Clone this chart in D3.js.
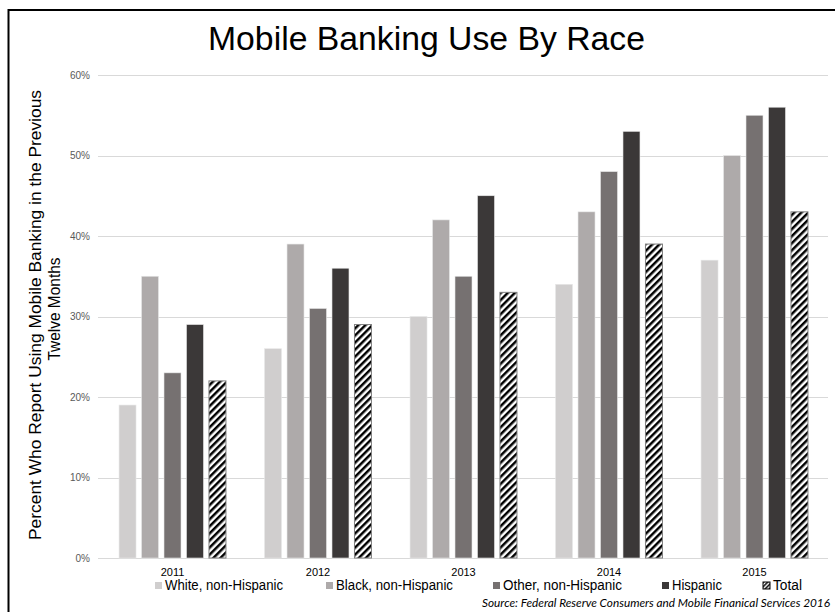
<!DOCTYPE html>
<html><head><meta charset="utf-8">
<script src="https://cdn.jsdelivr.net/npm/d3@7"></script>
<style>body{margin:0;background:#fff;} svg{display:block;}</style>
</head><body>
<script>
const years = ["2011","2012","2013","2014","2015"];
const seriesNames = ["White, non-Hispanic","Black, non-Hispanic","Other, non-Hispanic","Hispanic","Total"];
const white = [19,26,30,34,37];
const black = [35,39,42,43,50];
const other = [23,31,35,48,55];
const hispanic = [29,36,45,53,56];
const total = [22,29,33,39,43];
const yTicks = [0,10,20,30,40,50,60];
const colors = ["#d0cece","#aeaaaa","#767171","#3b3838","url(#hatch)"];
const legendColors = ["#d0cece","#aeaaaa","#767171","#3b3838","url(#hatchLeg)"];
const seriesValues = [white, black, other, hispanic, total];

const W = 835, H = 612;
const font = "Arial, 'Liberation Sans', sans-serif";
const svg = d3.select("body").append("svg").attr("width", W).attr("height", H);
const defs = svg.append("defs");
function hatch(id, size){
  const p = defs.append("pattern").attr("id",id).attr("patternUnits","userSpaceOnUse")
    .attr("width",size).attr("height",size).attr("patternTransform","rotate(45)");
  p.append("rect").attr("width",size).attr("height",size).attr("fill","#fff");
  p.append("rect").attr("width",size/2).attr("height",size).attr("fill","#000");
}
hatch("hatch", 5);
hatch("hatchLeg", 3);

// frame
svg.append("rect").attr("x",8.5).attr("y",10).attr("width",W).attr("height",H)
  .attr("fill","none").attr("stroke","#000").attr("stroke-width",2);

const m = {left:98, right:828, top:75, bottom:558};
const x0 = d3.scaleBand().domain(years).range([99.75, 827.25]).paddingInner(0.265).paddingOuter(0.1325);
const x1 = d3.scaleBand().domain(seriesNames).range([0, x0.bandwidth()]).paddingInner(0.244).paddingOuter(0);
const y = d3.scaleLinear().domain([0,60]).range([m.bottom, m.top]);

// gridlines
svg.append("g").selectAll("line").data(yTicks).join("line")
  .attr("x1", m.left).attr("x2", m.right)
  .attr("y1", d=>Math.round(y(d))+0.5).attr("y2", d=>Math.round(y(d))+0.5)
  .attr("stroke","#d9d9d9").attr("stroke-width",1);

// y axis
const yAxis = d3.axisLeft(y).tickValues(yTicks).tickFormat(d=>d+"%").tickSize(0).tickPadding(8);
const gy = svg.append("g").attr("transform",`translate(${m.left},0)`).call(yAxis);
gy.select(".domain").remove();
gy.selectAll("text").attr("font-family",font).attr("font-size",10).attr("fill","#595959");

// bars
const groups = svg.append("g").selectAll("g").data(years).join("g")
  .attr("transform", d=>`translate(${x0(d)},0)`);
groups.selectAll("rect").data((yr,i)=>seriesNames.map((s,j)=>({s, j, v: seriesValues[j][i]}))).join("rect")
  .attr("x", d=>x1(d.s)).attr("width", x1.bandwidth())
  .attr("y", d=>y(d.v)).attr("height", d=>y(0)-y(d.v))
  .attr("fill", d=>colors[d.j])
  .attr("stroke", d=>d.j===4 ? "#7f7f7f" : "#e8e8e8")
  .attr("stroke-width", d=>d.j===4 ? 1 : 0.6);

// x labels
const xAxis = d3.axisBottom(x0).tickSize(0).tickPadding(0);
const gx = svg.append("g").attr("transform",`translate(0,${m.bottom})`).call(xAxis);
gx.select(".domain").remove();
gx.selectAll("text").attr("font-family",font).attr("font-size",11).attr("fill","#000")
  .attr("dy",null).attr("y",18);

// title
svg.append("text").attr("x",426.5).attr("y",50).attr("text-anchor","middle")
  .attr("font-family",font).attr("font-size",33).attr("fill","#000")
  .attr("textLength",437).attr("lengthAdjust","spacingAndGlyphs")
  .text("Mobile Banking Use By Race");

// y label
const yl = svg.append("text").attr("transform","translate(41,315) rotate(-90)")
  .attr("text-anchor","middle").attr("font-family",font).attr("font-size",17).attr("fill","#000");
yl.append("tspan").attr("x",0).attr("y",0).attr("textLength",450).attr("lengthAdjust","spacingAndGlyphs")
  .text("Percent Who Report Using Mobile Banking in the Previous");
yl.append("tspan").attr("x",6).attr("y",19).attr("textLength",103).attr("lengthAdjust","spacingAndGlyphs")
  .text("Twelve Months");

// legend
const legSq = [155, 326, 493, 662, 763];
const legTextLen = [118, 117, 119, 50, 29];
const leg = svg.append("g").selectAll("g").data(seriesNames).join("g")
  .attr("transform",(d,i)=>`translate(${legSq[i]},590)`);
leg.append("rect").attr("x",0).attr("y",-8).attr("width",7).attr("height",7)
  .attr("fill",(d,i)=>legendColors[i]).attr("stroke",(d,i)=>i===4?"#000":"none").attr("stroke-width",1);
leg.append("text").attr("x",(d,i)=>i===1?10:10).attr("y",0).attr("font-family",font)
  .attr("font-size",14).attr("fill","#000")
  .attr("textLength",(d,i)=>legTextLen[i]).attr("lengthAdjust","spacingAndGlyphs")
  .text(d=>d);

// source
svg.append("text").attr("x",482).attr("y",607)
  .attr("font-family","Lato, 'Open Sans', sans-serif").attr("font-style","italic")
  .attr("font-size",12).attr("fill","#000")
  .attr("textLength",348).attr("lengthAdjust","spacingAndGlyphs")
  .text("Source: Federal Reserve Consumers and Mobile Finanical Services 2016");
</script>
</body></html>
